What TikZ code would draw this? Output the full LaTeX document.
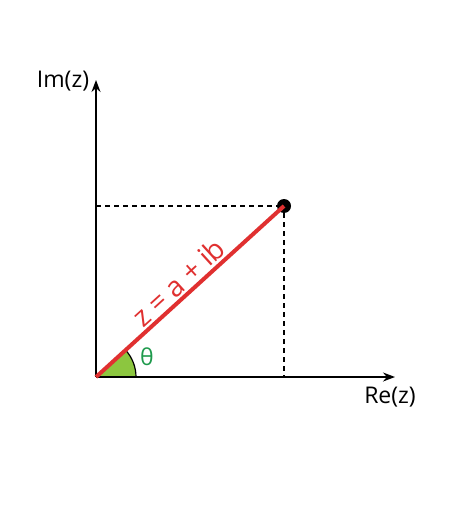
\documentclass[tikz,border=0pt]{standalone}
\usepackage{fontspec}
\setmainfont{Open Sans}
\usetikzlibrary{arrows.meta}

\definecolor{zred}{HTML}{E03030}
\definecolor{angfill}{HTML}{8CC63F}
\definecolor{thgreen}{HTML}{1E9A4C}

\tikzset{
  axis/.style={line width=1.5pt,-{Stealth[length=12pt,width=9pt]}},
  guide/.style={line width=1.2pt,dash pattern=on 5pt off 4pt},
  lbl/.style={font=\fontsize{23}{26}\selectfont,inner sep=0pt}
}

\begin{document}
\begin{tikzpicture}[x=1pt,y=-1pt]
\useasboundingbox[fill=white] (0,0) rectangle (474,505);
\coordinate (O) at (96,377);
\coordinate (Y) at (96,80);
\coordinate (X) at (395,377);
\coordinate (Ya) at (96,206);
\coordinate (Xa) at (284,377);
\node[shape=circle,fill=black,inner sep=0pt,minimum size=14pt] (P) at (284,206) {};
% angle
\fill[angfill] (O) -- ++(40,0) arc[start angle=0,end angle=-42.3,radius=40] -- cycle;
\draw[line width=1.2pt] (O) ++(40,0) arc[start angle=0,end angle=-42.3,radius=40];
% axes
\draw[axis] (O) -- (Y);
\draw[axis] (O) -- (X);
\path [guide] (Ya) edge (P);
\path [guide] (P) edge (Xa);
\draw[zred,line width=4pt] (O) -- (P.center)
  node[pos=0.49,sloped,above,lbl,inner sep=2pt,font=\fontsize{28}{30}\selectfont] (zlab) {z = a + ib};
\node[lbl] (im) at (63,81) {Im(z)};
\node[lbl] (re) at (390,397) {Re(z)};
\node[lbl,text=thgreen] (th) at (147,357) {θ};
\end{tikzpicture}
\end{document}
